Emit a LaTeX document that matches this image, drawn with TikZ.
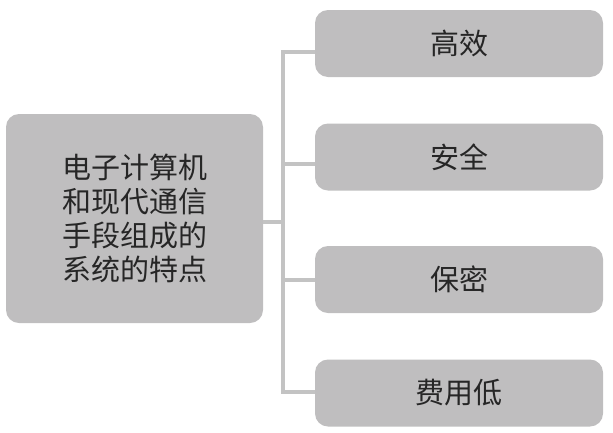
\documentclass[tikz,border=0pt]{standalone}
\usepackage{fontspec}
\newfontfamily\cjk{Noto Sans CJK SC}
\definecolor{boxgray}{HTML}{BFBEBF}
\definecolor{linegray}{HTML}{C3C3C3}
\definecolor{txt}{HTML}{262626}
\begin{document}
\begin{tikzpicture}[x=1pt,y=-1pt,
  box/.style={fill=boxgray, rounded corners=13pt, inner sep=0pt, text=txt,
    font=\cjk\fontsize{29}{34}\selectfont, align=center},
  mainbox/.style={box, minimum width=257pt, minimum height=209pt},
  leafbox/.style={box, minimum width=288pt, minimum height=67pt},
  conn/.style={draw=linegray, line width=4pt}]
\useasboundingbox (0,0) rectangle (613,432);
\node[mainbox] (m) at (134.5,218.5) {电子计算机\\和现代通信\\手段组成的\\系统的特点};
\node[leafbox] (b1) at (459,43.5) {高效};
\node[leafbox] (b2) at (459,157) {安全};
\node[leafbox] (b3) at (459,279.5) {保密};
\node[leafbox] (b4) at (459,393) {费用低};
\coordinate (s0) at (283,222);
\coordinate (s1) at (283,52);
\coordinate (s2) at (283,164);
\coordinate (s3) at (283,280);
\coordinate (s4) at (283,392);
\begin{scope}[on background layer/.try]
\draw[conn] (m.east |- s0) -- (s0);
\draw[conn,line cap=rect] (s1) -- (s4);
\draw[conn] (s1) -- (b1.west |- s1);
\draw[conn] (s2) -- (b2.west |- s2);
\draw[conn] (s3) -- (b3.west |- s3);
\draw[conn] (s4) -- (b4.west |- s4);
\end{scope}
\end{tikzpicture}
\end{document}
